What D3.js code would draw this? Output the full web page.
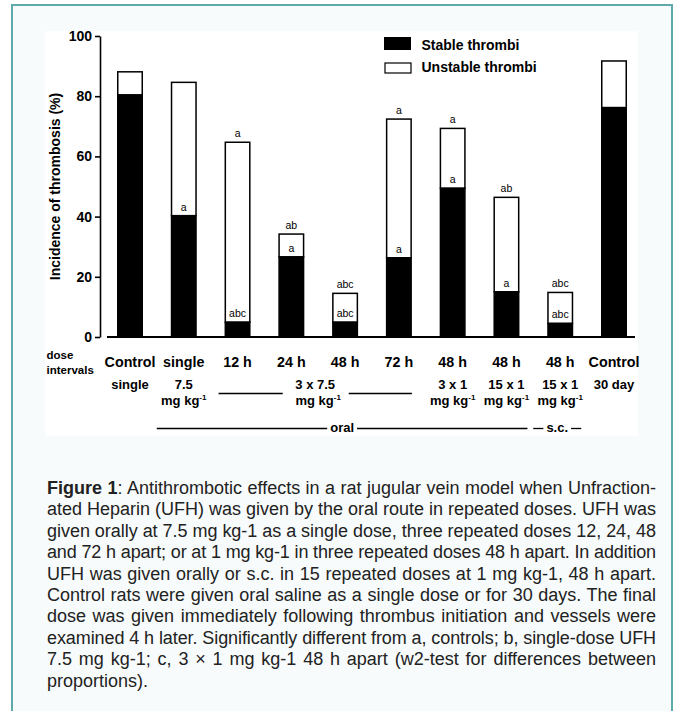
<!DOCTYPE html>
<html>
<head>
<meta charset="utf-8">
<script src="https://cdn.jsdelivr.net/npm/d3@7"></script>
<style>
  body { margin: 0; background: #fff; }
  #page { position: relative; width: 678px; height: 711px; overflow: hidden; }
  svg { position: absolute; left: 0; top: 0; }
  #caption { position: absolute; left: 47px; top: 478px; width: 609px;
             font-family: "Liberation Sans", Arial, sans-serif; font-size: 18px;
             line-height: 21.4px; color: #222; }
  #caption div { white-space: nowrap; }
  text { font-family: "Liberation Sans", Arial, sans-serif; fill: #000; }
</style>
</head>
<body>
<div id="page"></div>
<script>
// data
var groups = ['Control', 'single', '12 h', '24 h', '48 h', '72 h', '48 h', '48 h', '48 h', 'Control'];
var stable = [80.4, 40.3, 4.9, 26.6, 4.9, 26.3, 49.4, 15.0, 4.5, 76.2];
var total = [88.1, 84.6, 64.7, 34.2, 14.5, 72.4, 69.3, 46.4, 14.8, 91.7];
var stableMarks = ['', 'a', 'abc', 'a', 'abc', 'a', 'a', 'a', 'abc', ''];
var totalMarks = ['', '', 'a', 'ab', 'abc', 'a', 'a', 'ab', 'abc', ''];
var yTicks = [0, 20, 40, 60, 80, 100];

// dose rows under the axis
var doseAmounts = ['single', '7.5', '3 x 7.5', '3 x 1', '15 x 1', '15 x 1', '30 day'];
var doseSpan = [[0, 0], [1, 1], [2, 5], [6, 6], [7, 7], [8, 8], [9, 9]];
var doseUnit = [false, true, true, true, true, true, false];
var routes = ['oral', 's.c.'];
var routeSpan = [[1, 7], [8, 8]];
var legendLabels = ['Stable thrombi', 'Unstable thrombi'];

var captionLead = 'Figure 1';
var captionLines = [
  ': Antithrombotic effects in a rat jugular vein model when Unfraction-',
  'ated Heparin (UFH) was given by the oral route in repeated doses. UFH was',
  'given orally at 7.5 mg kg-1 as a single dose, three repeated doses 12, 24, 48',
  'and 72 h apart; or at 1 mg kg-1 in three repeated doses 48 h apart. In addition',
  'UFH was given orally or s.c. in 15 repeated doses at 1 mg kg-1, 48 h apart.',
  'Control rats were given oral saline as a single dose or for 30 days. The final',
  'dose was given immediately following thrombus initiation and vessels were',
  'examined 4 h later. Significantly different from a, controls; b, single-dose UFH',
  '7.5 mg kg-1; c, 3 \u00d7 1 mg kg-1 48 h apart (w2-test for differences between',
  'proportions).'
];

var width = 678, height = 711;

var svg = d3.select('#page').append('svg')
  .attr('width', width)
  .attr('height', height);

// frame and white figure area
svg.append('rect')
  .attr('x', 12).attr('y', 5).attr('width', 660).attr('height', 730)
  .attr('fill', '#f7fbfb').attr('stroke', '#5ea9a9').attr('stroke-width', 2);
svg.append('rect')
  .attr('x', 45).attr('y', 31).attr('width', 593).attr('height', 405)
  .attr('fill', '#fff');

var x = d3.scalePoint().domain(d3.range(groups.length)).range([130, 614]);
var y = d3.scaleLinear().domain([0, 100]).range([337, 36]);
var barW = 24.5;

// y axis
var yAxis = svg.append('g')
  .attr('transform', 'translate(100,0)')
  .call(d3.axisLeft(y).tickValues(yTicks).tickSize(5).tickSizeOuter(0).tickPadding(3));
yAxis.select('.domain').attr('stroke', '#000').attr('stroke-width', 1.6);
yAxis.selectAll('.tick line').attr('stroke', '#000').attr('stroke-width', 1.6);
yAxis.selectAll('.tick text')
  .attr('font-family', '"Liberation Sans", Arial, sans-serif')
  .attr('font-size', 14).attr('font-weight', 'bold').attr('fill', '#000');

svg.append('text')
  .attr('transform', 'translate(60,186.5) rotate(-90)')
  .attr('text-anchor', 'middle')
  .attr('font-size', 14).attr('font-weight', 'bold')
  .text('Incidence of thrombosis (%)');

// baseline
svg.append('line')
  .attr('x1', 107).attr('x2', 635)
  .attr('y1', y(0)).attr('y2', y(0))
  .attr('stroke', '#000').attr('stroke-width', 2);

// bars
var bars = svg.append('g').selectAll('g')
  .data(groups)
  .enter().append('g');

bars.append('rect')
  .attr('x', function(d, i) { return x(i) - barW / 2; })
  .attr('y', function(d, i) { return y(total[i]); })
  .attr('width', barW)
  .attr('height', function(d, i) { return y(stable[i]) - y(total[i]); })
  .attr('fill', '#fff').attr('stroke', '#000').attr('stroke-width', 1.5);

bars.append('rect')
  .attr('x', function(d, i) { return x(i) - barW / 2; })
  .attr('y', function(d, i) { return y(stable[i]); })
  .attr('width', barW)
  .attr('height', function(d, i) { return y(0) - y(stable[i]); })
  .attr('fill', '#000').attr('stroke', '#000').attr('stroke-width', 1.5);

bars.append('text')
  .attr('x', function(d, i) { return x(i); })
  .attr('y', function(d, i) { return y(total[i]) - 5.5; })
  .attr('text-anchor', 'middle').attr('font-size', 10.5)
  .text(function(d, i) { return totalMarks[i]; });

bars.append('text')
  .attr('x', function(d, i) { return x(i); })
  .attr('y', function(d, i) { return y(stable[i]) - 5; })
  .attr('text-anchor', 'middle').attr('font-size', 10.5)
  .text(function(d, i) { return stableMarks[i]; });

// legend
var legend = svg.append('g');
legend.append('rect').attr('x', 384).attr('y', 37).attr('width', 27).attr('height', 13)
  .attr('fill', '#000');
legend.append('rect').attr('x', 385).attr('y', 63).attr('width', 26).attr('height', 10)
  .attr('fill', '#fff').attr('stroke', '#000').attr('stroke-width', 1.2);
legend.selectAll('text')
  .data(legendLabels)
  .enter().append('text')
  .attr('x', 421.5)
  .attr('y', function(d, i) { return i ? 72 : 50; })
  .attr('font-size', 14).attr('font-weight', 'bold')
  .text(function(d) { return d; });

// x labels: dose interval row
svg.append('g').selectAll('text')
  .data(groups)
  .enter().append('text')
  .attr('x', function(d, i) { return x(i); })
  .attr('y', 367)
  .attr('text-anchor', 'middle')
  .attr('font-size', 14.3).attr('font-weight', 'bold')
  .text(function(d) { return d; });

svg.append('text').attr('x', 46.5).attr('y', 358.5)
  .attr('font-size', 11.5).attr('font-weight', 'bold').text('dose');
svg.append('text').attr('x', 46.5).attr('y', 374)
  .attr('font-size', 11.5).attr('font-weight', 'bold').text('intervals');

// dose amount rows
var doseG = svg.append('g');
doseAmounts.forEach(function(label, k) {
  var a = doseSpan[k][0], b = doseSpan[k][1];
  var cx = (x(a) + x(b)) / 2;
  if (b > a) {
    cx -= 3;
    // flanking rules for grouped doses
    doseG.append('line').attr('x1', x(a) - 19).attr('x2', cx - 32.5)
      .attr('y1', 393.5).attr('y2', 393.5).attr('stroke', '#000').attr('stroke-width', 1.3);
    doseG.append('line').attr('x1', cx + 33.5).attr('x2', x(b) + 13)
      .attr('y1', 393.5).attr('y2', 393.5).attr('stroke', '#000').attr('stroke-width', 1.3);
  }
  doseG.append('text')
    .attr('x', cx).attr('y', 389)
    .attr('text-anchor', 'middle')
    .attr('font-size', 13).attr('font-weight', 'bold')
    .text(label);
  if (doseUnit[k]) {
    var t = doseG.append('text')
      .attr('x', (x(a) + x(b)) / 2).attr('y', 405)
      .attr('text-anchor', 'middle')
      .attr('font-size', 13).attr('font-weight', 'bold');
    t.append('tspan').text('mg kg');
    t.append('tspan').attr('dy', -5.5).attr('font-size', 8).text('-1');
  }
});

// route rows
routes.forEach(function(label, k) {
  var lo = x(routeSpan[k][0]) - 27, hi = x(routeSpan[k][1]) + 21;
  var mid = (lo + hi) / 2;
  var t = doseG.append('text')
    .attr('x', mid).attr('y', 432)
    .attr('text-anchor', 'middle')
    .attr('font-size', 13).attr('font-weight', 'bold')
    .text(label);
  var half = t.node().getComputedTextLength() / 2 + 3;
  doseG.append('line').attr('x1', lo).attr('x2', mid - half)
    .attr('y1', 428.5).attr('y2', 428.5).attr('stroke', '#000').attr('stroke-width', 1.3);
  doseG.append('line').attr('x1', mid + half).attr('x2', hi)
    .attr('y1', 428.5).attr('y2', 428.5).attr('stroke', '#000').attr('stroke-width', 1.3);
});

// caption, justified line by line
var capW = 609;
var cap = d3.select('#page').append('div').attr('id', 'caption');
var lines = cap.selectAll('div')
  .data(captionLines)
  .enter().append('div');
var spans = lines.append('span');
spans.filter(function(d, i) { return i === 0; })
  .append('b').text(captionLead);
spans.append('span').text(function(d) { return d; });

spans.each(function(d, i) {
  if (i === captionLines.length - 1) return;
  var full = (i === 0 ? captionLead : '') + d;
  var natural = this.getBoundingClientRect().width;
  var gaps = (full.match(/ /g) || []).length;
  if (natural < capW && gaps) {
    d3.select(this).style('word-spacing', ((capW - natural) / gaps) + 'px');
  } else if (natural > capW) {
    d3.select(this).style('letter-spacing', ((capW - natural) / full.length) + 'px');
  }
});
</script>
</body>
</html>
